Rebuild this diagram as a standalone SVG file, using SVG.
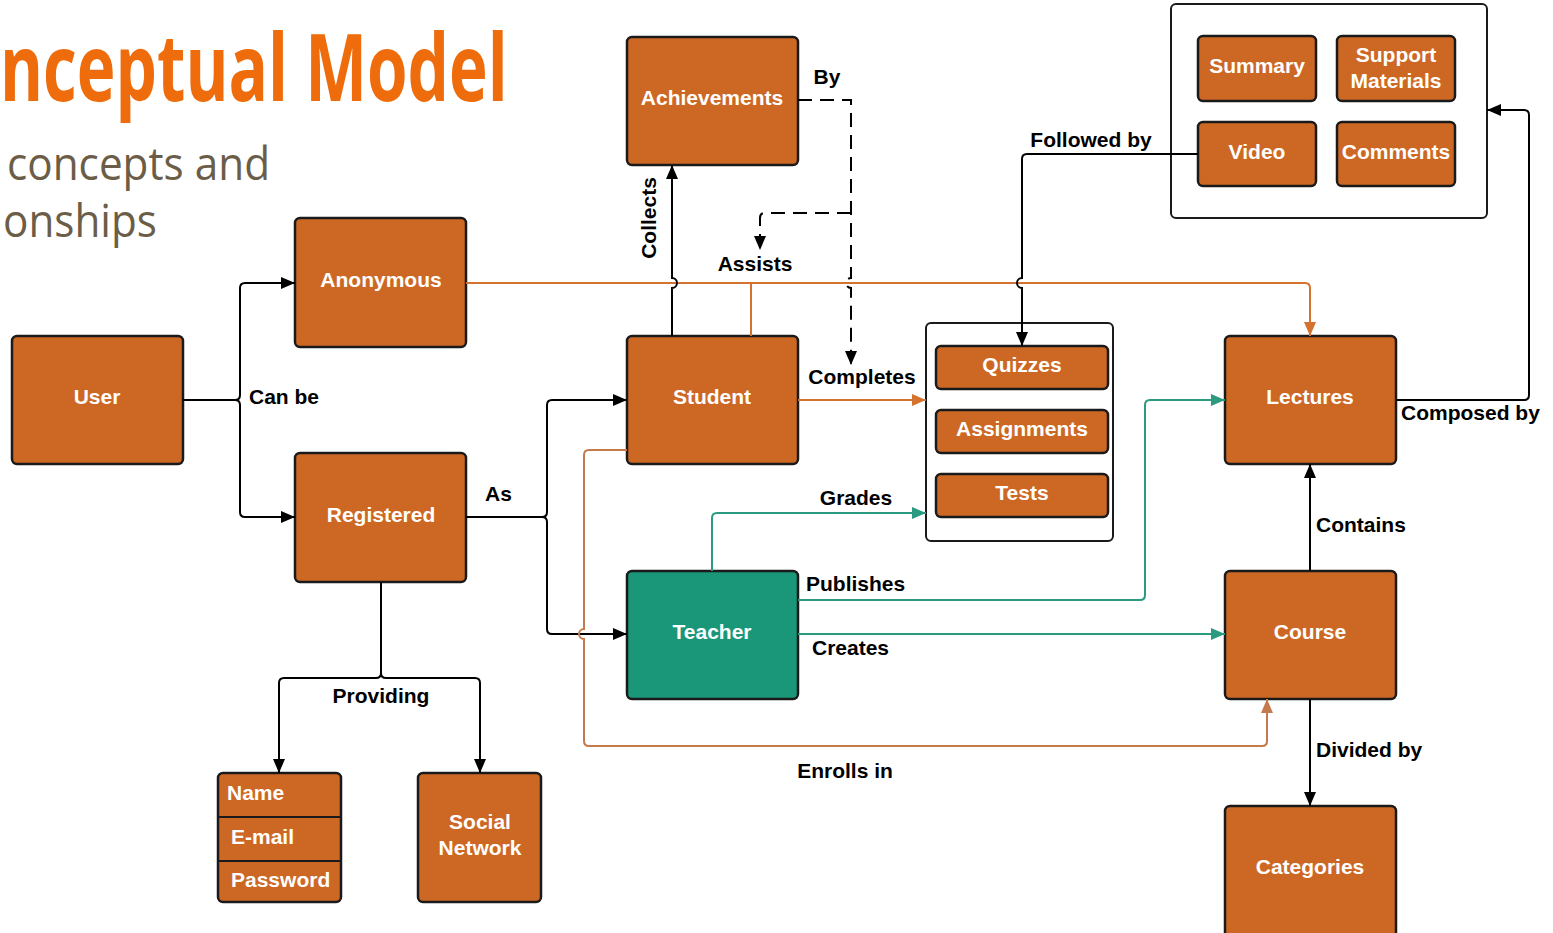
<svg xmlns="http://www.w3.org/2000/svg" width="1553" height="933" viewBox="0 0 1553 933">
<style>
.n{fill:#CD6824;stroke:#1a1a1a;stroke-width:2.5}
.t{fill:#1A9679;stroke:#1a1a1a;stroke-width:2.5}
.c{fill:#fff;stroke:#1a1a1a;stroke-width:2}
.nl{font-family:"Liberation Sans",Arial,sans-serif;font-weight:bold;font-size:21px;fill:#fff;text-anchor:middle}
.nls{font-family:"Liberation Sans",Arial,sans-serif;font-weight:bold;font-size:21px;fill:#fff;text-anchor:start}
.ll{font-family:"Liberation Sans",Arial,sans-serif;font-weight:bold;font-size:21px;fill:#000}
.k{fill:none;stroke:#000;stroke-width:2}
.o{fill:none;stroke:#D4722F;stroke-width:2}
.b{fill:none;stroke:#C57A4E;stroke-width:2}
.g{fill:none;stroke:#2A9A80;stroke-width:2}
.d{fill:none;stroke:#000;stroke-width:2;stroke-dasharray:14 8}
</style>
<defs>
<marker id="ak" markerUnits="userSpaceOnUse" markerWidth="15" markerHeight="12" refX="14" refY="6" orient="auto"><path d="M0,0 L14,6 L0,12 z" fill="#000"/></marker>
<marker id="ao" markerUnits="userSpaceOnUse" markerWidth="15" markerHeight="12" refX="14" refY="6" orient="auto"><path d="M0,0 L14,6 L0,12 z" fill="#D4722F"/></marker>
<marker id="ab" markerUnits="userSpaceOnUse" markerWidth="15" markerHeight="12" refX="14" refY="6" orient="auto"><path d="M0,0 L14,6 L0,12 z" fill="#C57A4E"/></marker>
<marker id="ag" markerUnits="userSpaceOnUse" markerWidth="15" markerHeight="12" refX="14" refY="6" orient="auto"><path d="M0,0 L14,6 L0,12 z" fill="#2A9A80"/></marker>
</defs>
<rect width="1553" height="933" fill="#fff"/>
<g id="title">
<text x="0" y="101" transform="scale(0.75,1)" font-family="'Open Sans',sans-serif" font-weight="bold" font-size="94" fill="#EE6C0B" textLength="677" lengthAdjust="spacingAndGlyphs">nceptual Model</text>
<text x="7" y="180" font-family="'Open Sans',sans-serif" font-size="46" fill="#6B5D47" textLength="263" lengthAdjust="spacingAndGlyphs">concepts and</text>
<text x="3" y="237" font-family="'Open Sans',sans-serif" font-size="46" fill="#6B5D47" textLength="154" lengthAdjust="spacingAndGlyphs">onships</text>
</g>
<g id="achievements"><rect class="n" x="627" y="37" width="171" height="128" rx="5"/><text class="nl" x="712" y="105">Achievements</text></g>
<g id="anonymous"><rect class="n" x="295" y="218" width="171" height="129" rx="5"/><text class="nl" x="381" y="287">Anonymous</text></g>
<g id="user"><rect class="n" x="12" y="336" width="171" height="128" rx="5"/><text class="nl" x="97" y="404">User</text></g>
<g id="student"><rect class="n" x="627" y="336" width="171" height="128" rx="5"/><text class="nl" x="712" y="404">Student</text></g>
<g id="registered"><rect class="n" x="295" y="453" width="171" height="129" rx="5"/><text class="nl" x="381" y="522">Registered</text></g>
<g id="teacher"><rect class="t" x="627" y="571" width="171" height="128" rx="5"/><text class="nl" x="712" y="639">Teacher</text></g>
<g id="lectures"><rect class="n" x="1225" y="336" width="171" height="128" rx="5"/><text class="nl" x="1310" y="404">Lectures</text></g>
<g id="course"><rect class="n" x="1225" y="571" width="171" height="128" rx="5"/><text class="nl" x="1310" y="639">Course</text></g>
<g id="categories"><rect class="n" x="1225" y="806" width="171" height="135" rx="5"/><text class="nl" x="1310" y="874">Categories</text></g>
<g id="credentials">
<rect class="n" x="218" y="773" width="123" height="129" rx="5"/>
<line x1="218" y1="817" x2="341" y2="817" stroke="#1a1a1a" stroke-width="2"/>
<line x1="218" y1="861" x2="341" y2="861" stroke="#1a1a1a" stroke-width="2"/>
<text class="nls" x="227" y="800">Name</text>
<text class="nls" x="231" y="844">E-mail</text>
<text class="nls" x="231" y="887">Password</text>
</g>
<g id="social"><rect class="n" x="418" y="773" width="123" height="129" rx="5"/><text class="nl" x="480" y="829">Social</text><text class="nl" x="480" y="855">Network</text></g>
<g id="activities">
<rect class="c" x="926" y="323" width="187" height="218" rx="5"/>
<g id="quizzes"><rect class="n" x="936" y="346" width="172" height="43" rx="5"/><text class="nl" x="1022" y="372">Quizzes</text></g>
<g id="assignments"><rect class="n" x="936" y="410" width="172" height="43" rx="5"/><text class="nl" x="1022" y="436">Assignments</text></g>
<g id="tests"><rect class="n" x="936" y="474" width="172" height="43" rx="5"/><text class="nl" x="1022" y="500">Tests</text></g>
</g>
<g id="contents">
<rect class="c" x="1171" y="4" width="316" height="214" rx="5"/>
<g id="summary"><rect class="n" x="1198" y="36" width="118" height="65" rx="5"/><text class="nl" x="1257" y="73">Summary</text></g>
<g id="support"><rect class="n" x="1337" y="36" width="118" height="65" rx="5"/><text class="nl" x="1396" y="62">Support</text><text class="nl" x="1396" y="88">Materials</text></g>
<g id="video"><rect class="n" x="1198" y="122" width="118" height="64" rx="5"/><text class="nl" x="1257" y="159">Video</text></g>
<g id="comments"><rect class="n" x="1337" y="122" width="118" height="64" rx="5"/><text class="nl" x="1396" y="159">Comments</text></g>
</g>
<g id="connectors">
<path class="k" d="M183,400 H235 Q240,400 240,395 V288 Q240,283 245,283 H295" marker-end="url(#ak)"/>
<path class="k" d="M183,400 H235 Q240,400 240,405 V512 Q240,517 245,517 H295" marker-end="url(#ak)"/>
<path class="k" d="M466,517 H542 Q547,517 547,512 V405 Q547,400 552,400 H627" marker-end="url(#ak)"/>
<path class="k" d="M466,517 H542 Q547,517 547,522 V629 Q547,634 552,634 H627" marker-end="url(#ak)"/>
<path class="k" d="M381,582 V673 Q381,678 376,678 H284 Q279,678 279,683 V773" marker-end="url(#ak)"/>
<path class="k" d="M381,582 V673 Q381,678 386,678 H475 Q480,678 480,683 V773" marker-end="url(#ak)"/>
<path class="o" d="M466,283 H1305 Q1310,283 1310,288 V336" marker-end="url(#ao)"/>
<path class="o" d="M751,336 V283"/>
<path class="k" d="M672,336 V288 A5,5 0 0 0 672,278 V165" marker-end="url(#ak)"/>
<path class="d" d="M798,100 H851 V278 A5,5 0 0 0 851,288 V365" marker-end="url(#ak)"/>
<path class="d" d="M851,213 H765 Q760,213 760,218 V250" marker-end="url(#ak)"/>
<path class="o" d="M798,400 H926" marker-end="url(#ao)"/>
<path class="g" d="M712,571 V518 Q712,513 717,513 H926" marker-end="url(#ag)"/>
<path class="g" d="M798,600 H1140 Q1145,600 1145,595 V405 Q1145,400 1150,400 H1225" marker-end="url(#ag)"/>
<path class="g" d="M798,634 H1225" marker-end="url(#ag)"/>
<path class="b" d="M627,450 H589 Q584,450 584,455 V629 A5,5 0 0 0 584,639 V741 Q584,746 589,746 H1262 Q1267,746 1267,741 V699" marker-end="url(#ab)"/>
<path class="k" d="M1310,571 V464" marker-end="url(#ak)"/>
<path class="k" d="M1310,699 V806" marker-end="url(#ak)"/>
<path class="k" d="M1396,400 H1524 Q1529,400 1529,395 V115 Q1529,110 1524,110 H1487" marker-end="url(#ak)"/>
<path class="k" d="M1198,154 H1027 Q1022,154 1022,159 V278 A5,5 0 0 0 1022,288 V346" marker-end="url(#ak)"/>
<text class="ll" x="827" y="84" text-anchor="middle">By</text>
<text class="ll" x="656" y="218" transform="rotate(-90 656 218)" text-anchor="middle">Collects</text>
<text class="ll" x="755" y="271" text-anchor="middle">Assists</text>
<text class="ll" x="862" y="384" text-anchor="middle">Completes</text>
<text class="ll" x="856" y="505" text-anchor="middle">Grades</text>
<text class="ll" x="806" y="591">Publishes</text>
<text class="ll" x="812" y="655">Creates</text>
<text class="ll" x="845" y="778" text-anchor="middle">Enrolls in</text>
<text class="ll" x="249" y="404">Can be</text>
<text class="ll" x="485" y="501">As</text>
<text class="ll" x="381" y="703" text-anchor="middle">Providing</text>
<text class="ll" x="1091" y="147" text-anchor="middle">Followed by</text>
<text class="ll" x="1401" y="420">Composed by</text>
<text class="ll" x="1316" y="532">Contains</text>
<text class="ll" x="1316" y="757">Divided by</text>
</g>
</svg>
